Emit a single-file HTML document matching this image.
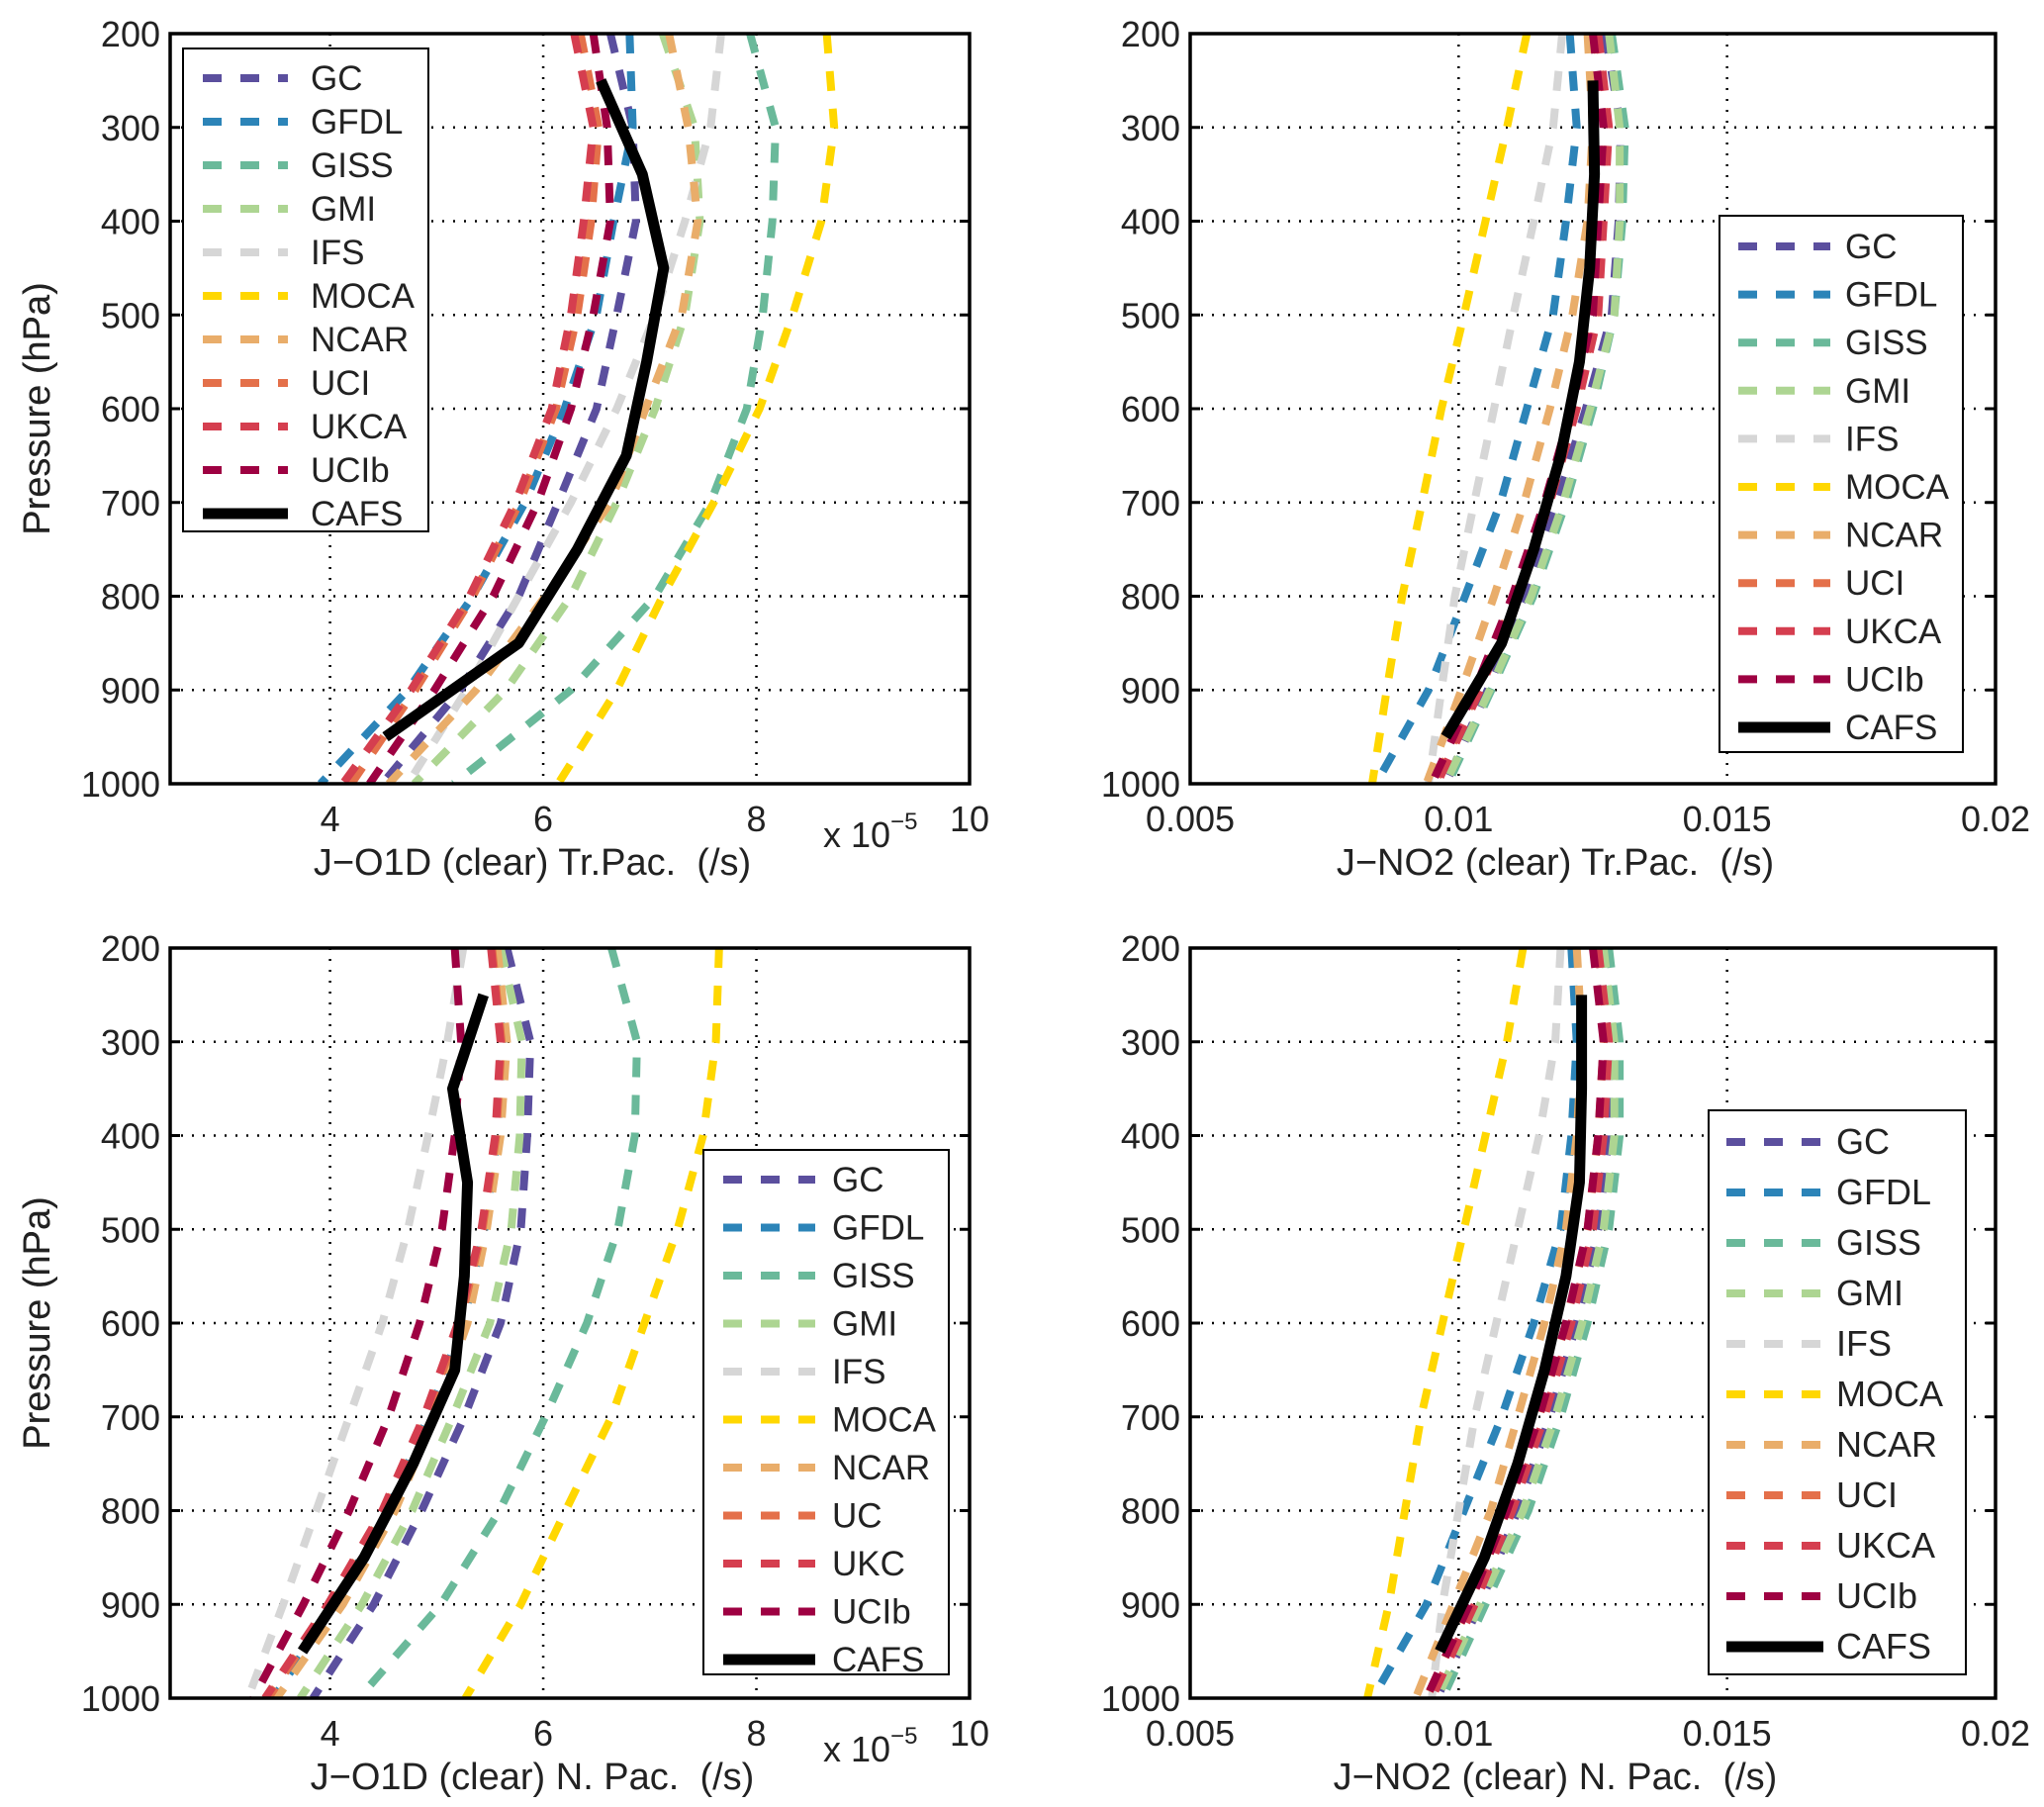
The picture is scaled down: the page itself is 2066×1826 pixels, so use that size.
<!DOCTYPE html>
<html><head><meta charset="utf-8">
<style>
html,body{margin:0;padding:0;background:#fff;}
svg{display:block;font-family:"Liberation Sans",Arial,sans-serif;}
</style></head>
<body>
<svg id="fig" width="2066" height="1826" viewBox="0 0 2066 1826" xmlns="http://www.w3.org/2000/svg"></svg>
<script>
// ---- shared data ----
const modelNames = ["GC","GFDL","GISS","GMI","IFS","MOCA","NCAR","UCI","UKCA","UCIb"];
const modelColors = ["#5b4f9e","#2c84b8","#6ab99a","#add592","#d6d6d6","#ffd700","#e9ad6a","#e4704a","#d53e4f","#9e0142"];
const modelLevels = [200,300,400,500,600,700,800,900,1000];
const cafsLevels = [250,350,450,550,650,750,850,950];
const yTicks = [200,300,400,500,600,700,800,900,1000];

// ---- panel A: J-O1D Tr.Pac (x1e-5) ----
const a_GC   = [6.63,6.84,6.87,6.69,6.50,6.14,5.77,5.22,4.49];
const a_GFDL = [6.81,6.84,6.66,6.50,6.20,5.83,5.34,4.73,3.91];
const a_GISS = [7.94,8.18,8.15,8.06,7.91,7.57,7.05,6.26,5.16];
const a_GMI  = [7.12,7.42,7.47,7.33,7.05,6.69,6.26,5.65,4.79];
const a_IFS  = [7.67,7.57,7.33,7.05,6.69,6.26,5.77,5.28,4.73];
const a_MOCA = [8.66,8.73,8.61,8.34,8.03,7.60,7.12,6.69,6.14];
const a_NCAR = [7.18,7.36,7.45,7.30,6.96,6.63,6.02,5.37,4.55];
const a_UCI  = [6.35,6.52,6.45,6.32,6.12,5.78,5.34,4.80,4.20];
const a_UKCA = [6.29,6.47,6.38,6.26,6.08,5.74,5.31,4.76,4.12];
const a_UCIb = [6.47,6.60,6.63,6.47,6.26,5.95,5.53,4.98,4.37];
const a_CAFS = [6.54,6.93,7.13,6.97,6.78,6.32,5.77,4.52];
const a_xTicks = [4,6,8,10];

// ---- panel B: J-NO2 Tr.Pac ----
const b_GC   = [0.01273,0.01302,0.01298,0.01285,0.01237,0.01183,0.01122,0.01054,0.00976];
const b_GFDL = [0.01207,0.01220,0.01200,0.01176,0.01127,0.01078,0.01012,0.00944,0.00846];
const b_GISS = [0.01285,0.01310,0.01305,0.01290,0.01250,0.01200,0.01139,0.01061,0.00980];
const b_GMI  = [0.01280,0.01300,0.01300,0.01290,0.01245,0.01195,0.01135,0.01058,0.00975];
const b_IFS  = [0.01193,0.01176,0.01140,0.01102,0.01066,0.01029,0.00993,0.00968,0.00944];
const b_MOCA = [0.01127,0.01090,0.01050,0.01010,0.00968,0.00932,0.00895,0.00866,0.00839];
const b_NCAR = [0.01240,0.01250,0.01240,0.01212,0.01170,0.01122,0.01066,0.01005,0.00940];
const b_UCI  = [0.01255,0.01275,0.01265,0.01255,0.01215,0.01165,0.01105,0.01035,0.00955];
const b_UKCA = [0.01260,0.01280,0.01270,0.01260,0.01220,0.01170,0.01110,0.01040,0.00960];
const b_UCIb = [0.01250,0.01270,0.01260,0.01250,0.01210,0.01160,0.01100,0.01030,0.00950];
const b_CAFS = [0.01250,0.01253,0.01244,0.01225,0.01190,0.01140,0.01080,0.00976];
const b_xTicks = [0.005,0.01,0.015,0.02];

// ---- panel C: J-O1D N.Pac (x1e-5) ----
const c_GC   = [5.66,5.88,5.85,5.79,5.60,5.26,4.86,4.41,3.84];
const c_GFDL = [5.53,5.62,5.57,5.45,5.25,4.92,4.54,4.04,3.47];
const c_GISS = [6.64,6.88,6.86,6.70,6.41,6.02,5.59,5.04,4.27];
const c_GMI  = [5.60,5.80,5.78,5.70,5.50,5.15,4.77,4.30,3.72];
const c_IFS  = [5.25,5.10,4.92,4.73,4.49,4.18,3.87,3.56,3.23];
const c_MOCA = [7.65,7.62,7.50,7.26,6.95,6.64,6.21,5.79,5.27];
const c_NCAR = [5.57,5.66,5.60,5.47,5.29,4.98,4.61,4.12,3.50];
const c_UCI  = [5.52,5.61,5.56,5.43,5.22,4.90,4.51,4.00,3.42];
const c_UKCA = [5.51,5.60,5.55,5.42,5.20,4.88,4.49,3.98,3.39];
const c_UCIb = [5.17,5.23,5.17,5.05,4.84,4.55,4.18,3.75,3.28];
const c_CAFS = [5.44,5.15,5.29,5.26,5.17,4.78,4.32,3.74];
const c_xTicks = [4,6,8,10];

// ---- panel D: J-NO2 N.Pac ----
const d_GC   = [0.0126,0.0128,0.0128,0.0126,0.0122,0.0117,0.0111,0.0104,0.0096];
const d_GFDL = [0.0121,0.0122,0.0121,0.0119,0.0114,0.0108,0.0101,0.0094,0.0084];
const d_GISS = [0.0128,0.0130,0.0130,0.0128,0.0124,0.0119,0.0113,0.0105,0.0097];
const d_GMI  = [0.0127,0.0129,0.0129,0.0127,0.0123,0.0118,0.0112,0.0104,0.0096];
const d_IFS  = [0.0119,0.0118,0.0115,0.0111,0.0107,0.0103,0.0100,0.0097,0.0095];
const d_MOCA = [0.0112,0.0109,0.0105,0.0101,0.0097,0.0093,0.0090,0.0087,0.0083];
const d_NCAR = [0.0122,0.0123,0.0122,0.0120,0.0116,0.0111,0.0106,0.0099,0.0092];
const d_UCI  = [0.0126,0.0127,0.0126,0.0124,0.0120,0.0115,0.0109,0.0102,0.0094];
const d_UKCA = [0.0126,0.0128,0.0127,0.0125,0.0121,0.0116,0.0110,0.0103,0.0095];
const d_UCIb = [0.0125,0.0127,0.0126,0.0124,0.0120,0.0115,0.0109,0.0102,0.0094];
const d_CAFS = [0.01229,0.01229,0.01225,0.01200,0.01160,0.01110,0.01048,0.00965];
const d_xTicks = [0.005,0.01,0.015,0.02];

const legendLabelsC = ["GC","GFDL","GISS","GMI","IFS","MOCA","NCAR","UC","UKC","UCIb"];

const svg = document.getElementById('fig');
const NS = "http://www.w3.org/2000/svg";
function mk(tag, attrs, parent){
  const e = document.createElementNS(NS, tag);
  for (const k in attrs) e.setAttribute(k, attrs[k]);
  (parent||svg).appendChild(e);
  return e;
}

const panels = [
  {id:"a", L:172,R:980,T:34,B:792, xmin:2.5,xmax:10, xTicks:a_xTicks, fmt:v=>String(v), series:[a_GC,a_GFDL,a_GISS,a_GMI,a_IFS,a_MOCA,a_NCAR,a_UCI,a_UKCA,a_UCIb], cafs:a_CAFS,
   xlabel:"J\u2212O1D (clear) Tr.Pac. \u00a0(/s)", sci:true,
   leg:{x:185,y:49,w:248,h:488,first:79,step:44,sx1:205,sx2:291,tx:314,fs:35}, labels:modelNames},
  {id:"b", L:1203,R:2017,T:34,B:792, xmin:0.005,xmax:0.02, xTicks:b_xTicks, fmt:v=>String(v), series:[b_GC,b_GFDL,b_GISS,b_GMI,b_IFS,b_MOCA,b_NCAR,b_UCI,b_UKCA,b_UCIb], cafs:b_CAFS,
   xlabel:"J\u2212NO2 (clear) Tr.Pac. \u00a0(/s)", sci:false,
   leg:{x:1738,y:218,w:246,h:542,first:249,step:48.6,sx1:1757,sx2:1850,tx:1865,fs:35}, labels:modelNames},
  {id:"c", L:172,R:980,T:958,B:1716, xmin:2.5,xmax:10, xTicks:c_xTicks, fmt:v=>String(v), series:[c_GC,c_GFDL,c_GISS,c_GMI,c_IFS,c_MOCA,c_NCAR,c_UCI,c_UKCA,c_UCIb], cafs:c_CAFS,
   xlabel:"J\u2212O1D (clear) N. Pac. \u00a0(/s)", sci:true,
   leg:{x:711,y:1162,w:248,h:530,first:1192,step:48.5,sx1:731,sx2:824,tx:841,fs:35}, labels:legendLabelsC},
  {id:"d", L:1203,R:2017,T:958,B:1716, xmin:0.005,xmax:0.02, xTicks:d_xTicks, fmt:v=>String(v), series:[d_GC,d_GFDL,d_GISS,d_GMI,d_IFS,d_MOCA,d_NCAR,d_UCI,d_UKCA,d_UCIb], cafs:d_CAFS,
   xlabel:"J\u2212NO2 (clear) N. Pac. \u00a0(/s)", sci:false,
   leg:{x:1727,y:1122,w:260,h:570,first:1154,step:51,sx1:1745,sx2:1843,tx:1856,fs:36}, labels:modelNames}
];

panels.forEach(p=>{
  const g = mk('g',{});
  
  
  const xs = v => p.L + (v-p.xmin)/(p.xmax-p.xmin)*(p.R-p.L);
  const ys = v => p.T + (v-200)/800*(p.B-p.T);
  const cid = 'clip-'+p.id;
  const cp = mk('clipPath',{id:cid},g);
  mk('rect',{x:p.L,y:p.T,width:p.R-p.L,height:p.B-p.T},cp);
  p.xTicks.forEach(t=>{
    const x = xs(t);
    if (x>p.L+2 && x<p.R-2){
      const l = mk('line',{x1:x,x2:x,y1:p.T,y2:p.B,stroke:"#000","stroke-width":2.5,"stroke-dasharray":"2 9"},g);
      
      
    }
    const tl = mk('text',{x:x,y:p.B+48,"font-size":36,"text-anchor":"middle",fill:"#222"},g);
    tl.textContent = p.fmt(t);
    
    
  });
  yTicks.forEach(t=>{
    const y = ys(t);
    if (y>p.T+2 && y<p.B-2){
      const l = mk('line',{x1:p.L,x2:p.R,y1:y,y2:y,stroke:"#000","stroke-width":2.5,"stroke-dasharray":"2 9"},g);
      
      
    }
    mk('line',{x1:p.L,x2:p.L+10,y1:y,y2:y,stroke:"#000","stroke-width":3},g);
    mk('line',{x1:p.R,x2:p.R-10,y1:y,y2:y,stroke:"#000","stroke-width":3},g);
    const tl = mk('text',{x:p.L-10,y:y+13,"font-size":36,"text-anchor":"end",fill:"#222"},g);
    tl.textContent = t;
    
    
  });
  const sg = mk('g',{"clip-path":"url(#"+cid+")"},g);
  p.series.forEach((arr,i)=>{
    const pts = arr.map((v,k)=>xs(v)+","+ys(modelLevels[k])).join(" ");
    const pl = mk('polyline',{points:pts,fill:"none",stroke:modelColors[i],"stroke-width":8,"stroke-dasharray":"20 18"},sg);
    
    
  });
  const cpts = p.cafs.map((v,k)=>xs(v)+","+ys(cafsLevels[k])).join(" ");
  const cl = mk('polyline',{points:cpts,fill:"none",stroke:"#000","stroke-width":11,"stroke-linejoin":"round"},sg);
  
  
  const fr = mk('rect',{x:p.L,y:p.T,width:p.R-p.L,height:p.B-p.T,fill:"none",stroke:"#000","stroke-width":3.5},g);
  
  
  const xl = mk('text',{x:(p.L+p.R)/2-38,y:p.B+92,"font-size":38,"text-anchor":"middle",fill:"#222"},g);
  xl.textContent = p.xlabel;
  
  
  const yl = mk('text',{x:0,y:0,"font-size":38,"text-anchor":"middle",fill:"#222",transform:"translate(50,"+((p.T+p.B)/2)+") rotate(-90)"},g);
  yl.textContent = "Pressure (hPa)";
  
  
  if (p.sci){
    const st = mk('text',{x:p.R-148,y:p.B+64,"font-size":36,fill:"#222"},g);
    st.textContent = "x 10";
    
    
    const sup = mk('tspan',{dy:-18,"font-size":24},st);
    sup.textContent = "\u22125";
  }
  const lg = p.leg;
  const lgg = mk('g',{},g);
  
  
  mk('rect',{x:lg.x,y:lg.y,width:lg.w,height:lg.h,fill:"#fff",stroke:"#000","stroke-width":2},lgg);
  const names = p.labels.concat(["CAFS"]);
  names.forEach((n,i)=>{
    const y = lg.first + i*lg.step;
    const isC = i===10;
    const e = mk('g',{},lgg);
    
    
    mk('line',{x1:lg.sx1,x2:lg.sx2,y1:y,y2:y,stroke:isC?"#000":modelColors[i],"stroke-width":isC?11:8,"stroke-dasharray":isC?"none":"19 19"},e);
    const t = mk('text',{x:lg.tx,y:y+12,"font-size":lg.fs,fill:"#222"},e);
    t.textContent = n;
  });
});
</script>
</body></html>
